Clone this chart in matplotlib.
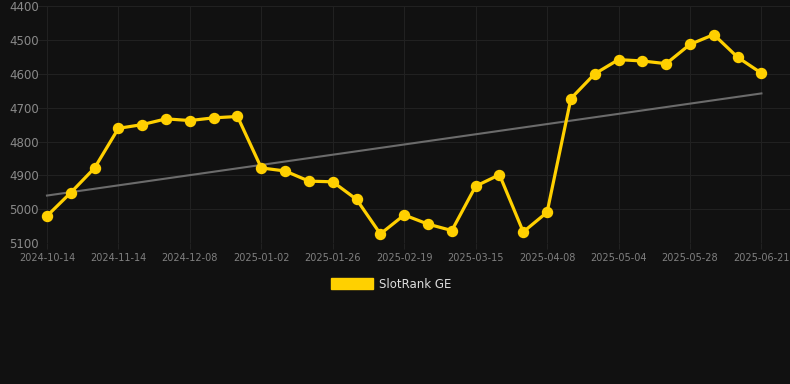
import numpy as np
import matplotlib
matplotlib.use("Agg")
import matplotlib.pyplot as plt
from matplotlib.patches import Patch

# rank values, one per week-ish sample (lower is better, axis inverted)
ranks = [5020, 4951, 4878, 4761, 4750, 4733, 4738, 4730, 4726, 4878,
         4887, 4917, 4919, 4971, 5073, 5017, 5044, 5063, 4932, 4898,
         5067, 5009, 4673, 4600, 4558, 4562, 4570, 4513, 4484, 4551,
         4598]
tick_labels = ['2024-10-14', '2024-11-14', '2024-12-08', '2025-01-02',
               '2025-01-26', '2025-02-19', '2025-03-15', '2025-04-08',
               '2025-05-04', '2025-05-28', '2025-06-21']
y_ticks = [4400, 4500, 4600, 4700, 4800, 4900, 5000, 5100]

bg = '#111111'
yellow = '#FFD000'

fig = plt.figure(figsize=(7.9, 3.84), dpi=100, facecolor=bg)
ax = fig.add_axes([0.048, 0.367, 0.952, 0.617], facecolor=bg)

x = np.arange(len(ranks))
# linear trend fitted on the series
k, b = np.polyfit(x, ranks, 1)
ax.plot(x, k * x + b, color='#6b6b6b', lw=1.5, zorder=2)
ax.plot(x, ranks, color=yellow, lw=2.3, marker='o', markersize=7.2, zorder=3)

ax.set_ylim(5100, 4400)
ax.set_xlim(-0.38, 31.2)
ax.set_yticks(y_ticks)
ax.set_xticks(x[::3])
ax.set_xticklabels(tick_labels)

ax.grid(True, color='#212121', lw=0.8)
ax.set_axisbelow(True)
for s in ax.spines.values():
    s.set_visible(False)
ax.tick_params(axis='y', length=0, labelsize=8.5, labelcolor='#8a8a8a', pad=3)
ax.tick_params(axis='x', length=4, color='#212121', labelsize=7, labelcolor='#808080', pad=3)
for lab in ax.get_yticklabels():
    lab.set_horizontalalignment('left')
    lab.set_x(-0.033)

handle = Patch(facecolor=yellow, edgecolor=yellow)
fig.legend([handle], ['SlotRank GE'], loc='center', bbox_to_anchor=(0.495, 0.26),
           frameon=False, labelcolor='#dddddd', fontsize=8.5,
           handlelength=3.6, handleheight=1.0, handletextpad=0.5)

fig.savefig('out.png', dpi=100, facecolor=bg)
